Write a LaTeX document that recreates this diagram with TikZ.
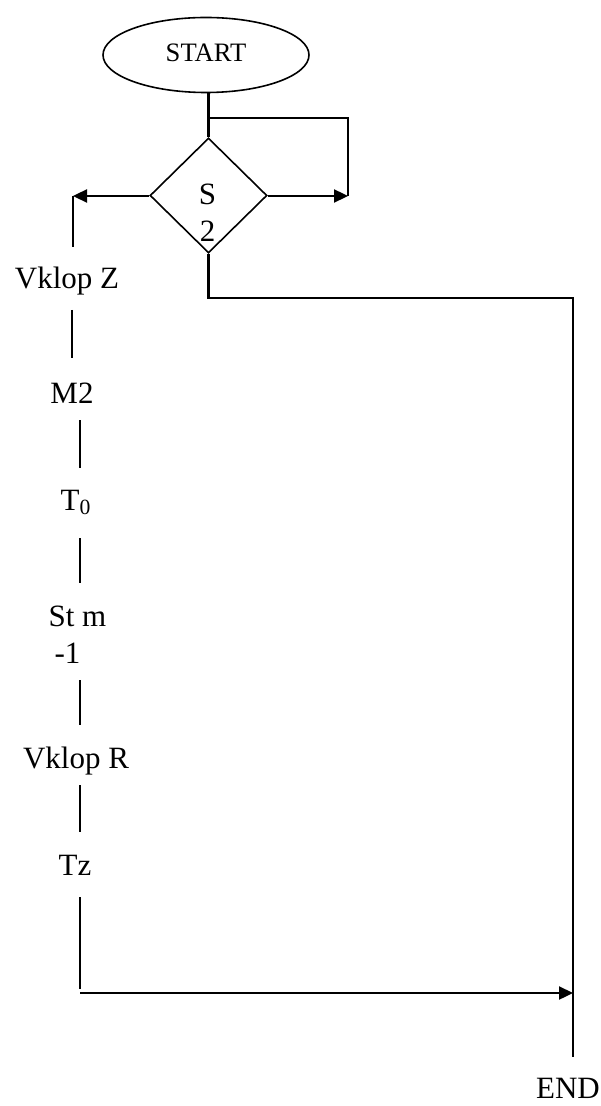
\documentclass[tikz,border=0pt]{standalone}
\usepackage{fontspec}
\setmainfont{Liberation Serif}
\usetikzlibrary{shapes.geometric,arrows.meta}
\tikzset{
  lbl/.style={anchor=base,inner sep=0pt,font=\fontsize{15.5pt}{18pt}\selectfont},
  conn/.style={line width=1.15pt},
  arr/.style={line width=1.15pt,-{Triangle[length=7pt,width=6.5pt]}},
  startbox/.style={draw,ellipse,line width=0.8pt,inner sep=0pt,minimum width=103pt,minimum height=37.5pt,font=\fontsize{13.3pt}{16pt}\selectfont},
  decbox/.style={draw,diamond,line width=0.8pt,inner sep=0pt,minimum width=58.5pt,minimum height=57.5pt}
}
\begin{document}
\begin{tikzpicture}[x=0.5pt,y=-0.5pt]
\useasboundingbox (0,0) rectangle (600,1106);
% shapes
\node[startbox] (start) at (206,55) {\raisebox{2.5pt}{START}};
\node[decbox] (d) at (208.5,195.5) {};
\node[lbl] (s) at (207.5,205) {S};
\node[lbl] (two) at (207.5,242) {2};
% labels
\node[lbl] (vz) at (67,289) {Vklop Z};
\node[lbl] (m2) at (72,403) {M2};
\node[lbl] (t0) at (76,510) {T\textsubscript{0}};
\node[lbl] (stm) at (77.5,626) {St m};
\node[lbl] (m1) at (67.5,663) {-1};
\node[lbl] (vr) at (76,768) {Vklop R};
\node[lbl] (tz) at (75,875) {Tz};
\node[lbl] (end) at (568,1098) {END};
% coordinates
\coordinate (j) at (208.5,118);
\coordinate (rc) at (348,196);
\coordinate (lc) at (73,196);
\coordinate (lc2) at (73,247);
\coordinate (e1) at (573,298);
\coordinate (e2) at (573,1057);
\coordinate (a1) at (72,310);
\coordinate (a2) at (72,358);
\coordinate (b1) at (80,420);
\coordinate (b2) at (80,468);
\coordinate (c1) at (80,538);
\coordinate (c2) at (80,583);
\coordinate (f1) at (80,680);
\coordinate (f2) at (80,725);
\coordinate (g1) at (80,785);
\coordinate (g2) at (80,832);
\coordinate (h1) at (80,897);
\coordinate (h2) at (80,989);
\coordinate (k1) at (80,993);
\coordinate (k2) at (573,993);
% connectors
\draw[conn] (d.north |- start.south) -- (d.north);
\draw[conn] (j) -| (rc);
\draw[arr] (d.east |- rc) -- (rc);
\draw[arr] (d.west |- lc) -- (lc);
\draw[conn] (lc) -- (lc2);
\draw[conn] (d.south) |- (e1) -- (e2);
\draw[conn] (a1) -- (a2);
\draw[conn] (b1) -- (b2);
\draw[conn] (c1) -- (c2);
\draw[conn] (f1) -- (f2);
\draw[conn] (g1) -- (g2);
\draw[conn] (h1) -- (h2);
\draw[arr] (k1) -- (k2);
\end{tikzpicture}
\end{document}
